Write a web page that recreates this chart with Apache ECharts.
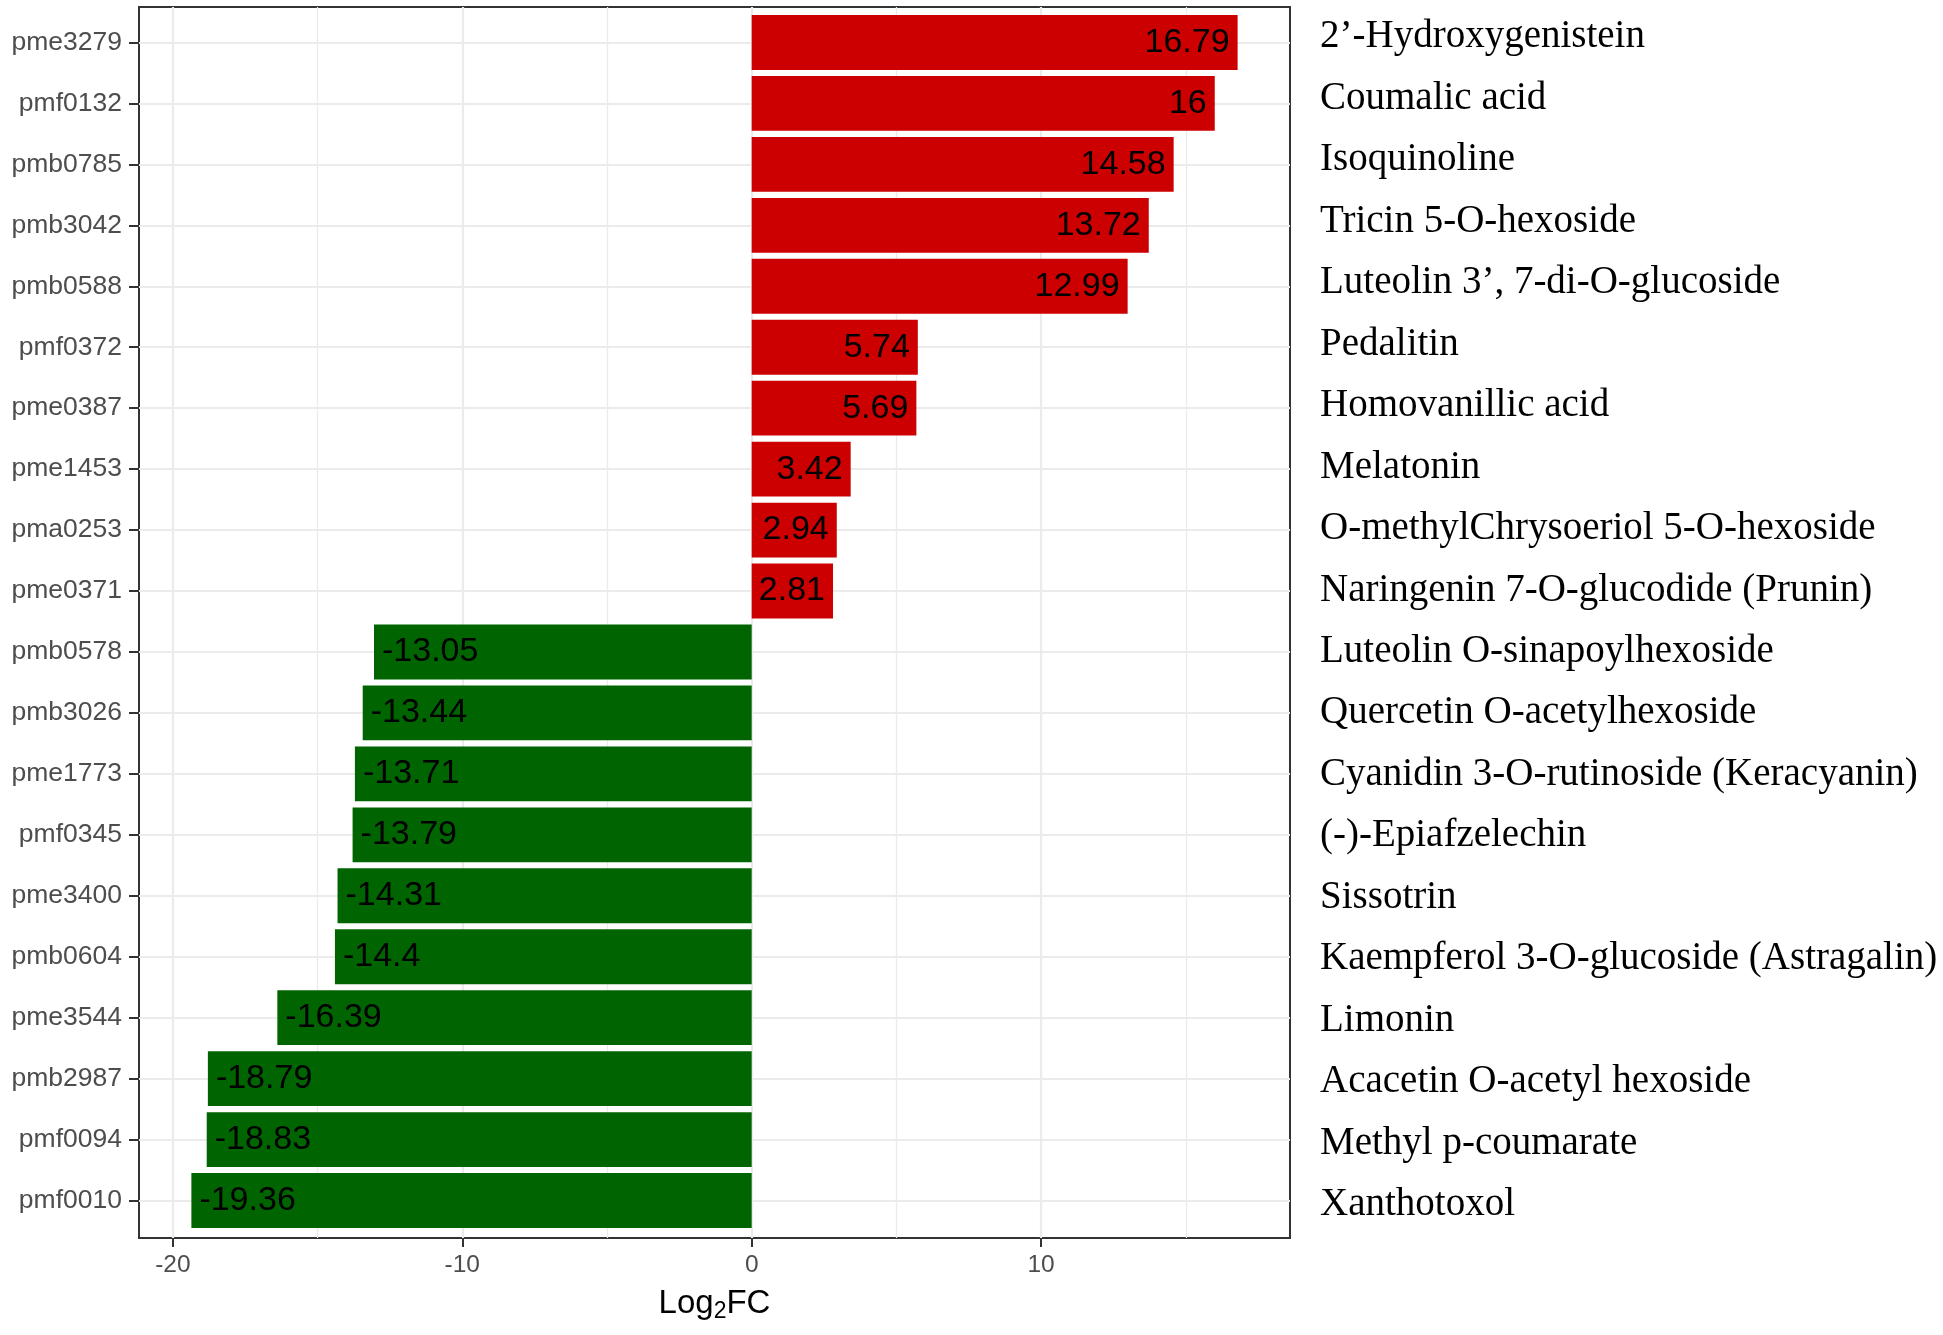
<!DOCTYPE html>
<html>
<head>
<meta charset="utf-8">
<title>Log2FC</title>
<script src="https://cdn.jsdelivr.net/npm/echarts@6/dist/echarts.min.js"></script>
<style>
  html, body { margin: 0; padding: 0; background: #fff; }
  #chart { width: 1943px; height: 1335px; }
</style>
</head>
<body>
<div id="chart"></div>
<script>
'use strict';
// metabolite ids, top to bottom
var ids = ['pme3279', 'pmf0132', 'pmb0785', 'pmb3042', 'pmb0588',
           'pmf0372', 'pme0387', 'pme1453', 'pma0253', 'pme0371',
           'pmb0578', 'pmb3026', 'pme1773', 'pmf0345', 'pme3400',
           'pmb0604', 'pme3544', 'pmb2987', 'pmf0094', 'pmf0010'];
var names = ['2’-Hydroxygenistein', 'Coumalic acid', 'Isoquinoline',
             'Tricin 5-O-hexoside', 'Luteolin 3’, 7-di-O-glucoside',
             'Pedalitin', 'Homovanillic acid', 'Melatonin',
             'O-methylChrysoeriol 5-O-hexoside', 'Naringenin 7-O-glucodide (Prunin)',
             'Luteolin O-sinapoylhexoside', 'Quercetin O-acetylhexoside',
             'Cyanidin 3-O-rutinoside (Keracyanin)', '(-)-Epiafzelechin',
             'Sissotrin', 'Kaempferol 3-O-glucoside (Astragalin)', 'Limonin',
             'Acacetin O-acetyl hexoside', 'Methyl p-coumarate', 'Xanthotoxol'];
var log2fc = [16.79, 16, 14.58, 13.72, 12.99, 5.74, 5.69, 3.42, 2.94, 2.81,
              -13.05, -13.44, -13.71, -13.79, -14.31, -14.4, -16.39, -18.79, -18.83, -19.36];
var majorTicks = [-20, -10, 0, 10];
var minorTicks = [-15, -5, 5, 15];

var xMin = -21.17, xMax = 18.6;
var UP = '#CC0000', DOWN = '#006400';
var GRID_LINE = '#EBEBEB';

var barData = log2fc.map(function (v) {
  return {
    value: v,
    itemStyle: { color: v >= 0 ? UP : DOWN },
    label: { position: v >= 0 ? 'insideRight' : 'insideLeft' }
  };
});

var chart = echarts.init(document.getElementById('chart'), null, { renderer: 'canvas' });
chart.setOption({
  animation: false,
  backgroundColor: '#fff',
  grid: [
    // panel frame
    { left: 139, width: 1151, top: 7, height: 1231, show: true,
      borderColor: '#333333', borderWidth: 2, backgroundColor: 'transparent' },
    // bars
    { left: 139, width: 1151, top: 12, height: 1219 },
    // compound names on the right
    { left: 139, width: 1151, top: 6.5, height: 1229 }
  ],
  xAxis: [
    {
      gridIndex: 0, type: 'value', min: xMin, max: xMax,
      axisLine: { show: false },
      axisTick: { show: true, customValues: majorTicks, length: 9,
                  lineStyle: { color: '#333333', width: 2 } },
      axisLabel: { customValues: majorTicks, fontSize: 24.5, color: '#4D4D4D',
                   fontFamily: 'Liberation Sans', margin: 15 },
      splitLine: { show: true, lineStyle: { color: GRID_LINE, width: 2.2 } },
      name: '{a|Log}{b|2}{a|FC}',
      nameLocation: 'middle',
      nameGap: 47,
      nameTextStyle: {
        rich: {
          a: { fontSize: 33, color: '#000', fontFamily: 'Liberation Sans' },
          b: { fontSize: 23, color: '#000', fontFamily: 'Liberation Sans',
               verticalAlign: 'bottom', padding: [15, 0, 0, 0] }
        }
      }
    },
    {
      gridIndex: 0, type: 'value', min: xMin, max: xMax, position: 'bottom',
      axisLine: { show: false },
      axisTick: { show: false, customValues: minorTicks },
      axisLabel: { show: false, customValues: minorTicks },
      splitLine: { show: true, lineStyle: { color: GRID_LINE, width: 1.3 } }
    },
    { gridIndex: 1, type: 'value', min: xMin, max: xMax, show: false },
    { gridIndex: 2, type: 'value', min: xMin, max: xMax, show: false }
  ],
  yAxis: [
    { gridIndex: 0, type: 'value', min: 0, max: 1, show: false },
    {
      gridIndex: 1, type: 'category', data: ids, inverse: true, position: 'left',
      axisLine: { show: false, onZero: false },
      axisTick: { show: true, alignWithLabel: true, length: 10,
                  lineStyle: { color: '#333333', width: 2 } },
      axisLabel: { fontSize: 26.5, color: '#4D4D4D', fontFamily: 'Liberation Sans', margin: 17 },
      splitLine: { show: true, alignWithLabel: true, lineStyle: { color: GRID_LINE, width: 2.2 } }
    },
    {
      gridIndex: 2, type: 'category', data: names, inverse: true, position: 'right',
      axisLine: { show: false, onZero: false },
      axisTick: { show: false },
      splitLine: { show: false },
      axisLabel: { fontSize: 39, color: '#000', fontFamily: 'Liberation Serif',
                   margin: 30, align: 'left' }
    }
  ],
  series: [
    {
      type: 'bar',
      xAxisIndex: 2,
      yAxisIndex: 1,
      data: barData,
      barCategoryGap: '10%',
      label: {
        show: true,
        fontSize: 34,
        color: '#000',
        fontFamily: 'Liberation Sans',
        distance: 8
      }
    }
  ]
});
</script>
</body>
</html>
